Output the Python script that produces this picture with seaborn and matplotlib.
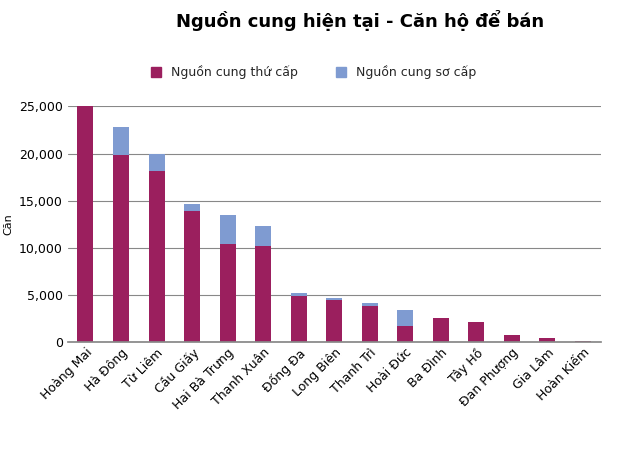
import matplotlib
matplotlib.use("Agg")
import matplotlib.pyplot as plt
import seaborn as sns
import pandas as pd
from matplotlib.ticker import FuncFormatter

districts = ["Hoàng Mai","Hà Đông","Từ Liêm","Cầu Giấy","Hai Bà Trưng","Thanh Xuân","Đống Đa",
             "Long Biên","Thanh Trì","Hoài Đức","Ba Đình","Tây Hồ","Đan Phượng","Gia Lâm","Hoàn Kiếm"]
secondary = [25000,19900,18200,13900,10400,10200,4900,4500,3800,1700,2600,2100,700,400,100]
primary = [0,2900,1800,700,3100,2100,300,200,300,1700,0,0,0,0,0]
total = [s+p for s,p in zip(secondary,primary)]

sns.set_theme(style="white")
plt.rcParams['font.family'] = ['DejaVu Sans']
fig = plt.figure(figsize=(6.27,4.53), dpi=100)
ax = fig.add_axes([0.108, 0.245, 0.85, 0.52])
df = pd.DataFrame({"d":districts,"t":total,"s":secondary})
c2 = "#9B1F5E"; c1 = "#7F9BD1"
sns.barplot(data=df, x="d", y="t", color=c1, width=0.45, ax=ax, saturation=1, linewidth=0)
sns.barplot(data=df, x="d", y="s", color=c2, width=0.45, ax=ax, saturation=1, linewidth=0)
ax.set_ylim(0,25000)
ax.set_yticks(range(0,25001,5000))
ax.yaxis.set_major_formatter(FuncFormatter(lambda v,p: f"{int(v):,}"))
ax.yaxis.grid(True, color="#888888", lw=0.8)
ax.set_axisbelow(True)
for s in ["top","right","left"]:
    ax.spines[s].set_visible(False)
ax.spines["bottom"].set_color("#888888")
ax.set_xlabel("")
ax.set_ylabel("Căn", fontsize=8, color="black")
ax.tick_params(axis="y", labelsize=9, length=0, labelcolor="black")
ax.set_xticks(range(len(districts)))
ax.set_xticklabels(districts, rotation=45, ha="right", rotation_mode="anchor", fontsize=9, color="black")
ax.tick_params(axis="x", length=0, pad=3)
fig.text(0.575, 0.955, "Nguồn cung hiện tại - Căn hộ để bán", ha="center", va="center",
         fontsize=13, fontweight="bold", color="black")
from matplotlib.patches import Patch
fig.legend(handles=[Patch(color=c2,label="Nguồn cung thứ cấp"),Patch(color=c1,label="Nguồn cung sơ cấp")],
           loc="center", bbox_to_anchor=(0.5,0.84), ncol=2, frameon=False, fontsize=9,
           handlelength=0.8, handleheight=0.8, columnspacing=3)
fig.savefig("out.png", dpi=100)
